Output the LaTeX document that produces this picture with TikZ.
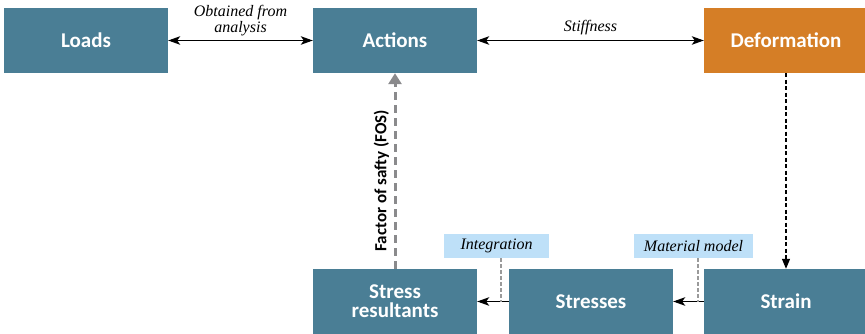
\documentclass[tikz,border=0pt]{standalone}
\usepackage{fontspec}
\setsansfont{Carlito}
\newfontfamily\labelfont{Liberation Serif}
\usetikzlibrary{arrows.meta}
\definecolor{boxteal}{HTML}{4A7E95}
\definecolor{boxorange}{HTML}{D57E26}
\definecolor{notefill}{HTML}{BEE0F8}
\definecolor{fosgray}{HTML}{8A8A8C}
\definecolor{notegray}{HTML}{9A9A9A}
\tikzset{
  blockbox/.style={fill=boxteal, draw=none, minimum width=164pt, minimum height=65pt,
    inner sep=0pt, text=white, align=center,
    font=\sffamily\bfseries\fontsize{21}{19}\selectfont},
  orangebox/.style={blockbox, fill=boxorange},
  notebox/.style={fill=notefill, draw=none, minimum height=24pt, inner sep=0pt,
    font=\labelfont\itshape\fontsize{16}{16}\selectfont},
  edgelabel/.style={font=\labelfont\itshape\fontsize{16}{14}\selectfont, align=center},
  solidarrow/.style={line width=1.1pt, -{Stealth[length=12pt,width=8.5pt,inset=3pt]}},
  twoway/.style={line width=1.1pt, {Stealth[length=12pt,width=8.5pt,inset=3pt]}-{Stealth[length=12pt,width=8.5pt,inset=3pt]}},
  fosarrow/.style={draw=fosgray, line width=3pt, dash pattern=on 8pt off 5pt,
    -{Triangle[length=11pt,width=13pt,fill=fosgray]}},
  dottedarrow/.style={line width=1.2pt, dash pattern=on 4pt off 2.5pt,
    -{Triangle[length=10pt,width=8pt]}},
  noteline/.style={draw=notegray, line width=1.3pt, dash pattern=on 4pt off 2pt}
}
\begin{document}
\begin{tikzpicture}[x=1pt, y=-1pt]
  \useasboundingbox (0,0) rectangle (865,334);
  \clip (0,0) rectangle (865,334);

  % main blocks
  \node[blockbox] (loads) at (86,40.5) {Loads};
  \node[blockbox] (actions) at (395,40.5) {Actions};
  \node[orangebox] (deform) at (786,40.5) {Deformation};
  \node[blockbox] (strain) at (786,301.5) {Strain};
  \node[blockbox] (stresses) at (591,301.5) {Stresses};
  \node[blockbox] (result) at (395,301.5) {Stress\\resultants};

  % top row relations
  \draw[twoway] (loads.east) -- node[edgelabel, above=1pt] {Obtained from\\analysis} (actions.west);
  \draw[twoway] (actions.east) -- node[edgelabel, above=2pt] {Stiffness} (deform.west);

  % deformation to strain
  \draw[dottedarrow] (deform.south) -- (strain.north);

  % bottom row
  \draw[solidarrow] (strain.west) -- (stresses.east);
  \draw[solidarrow] (stresses.west) -- (result.east);

  % safety factor back to actions
  \draw[fosarrow] (result.north) -- node[pos=0.45, sloped, above=1pt, text=black,
    font=\sffamily\bfseries\fontsize{17}{18}\selectfont] {Factor of safty (FOS)} (actions.south);

  % notes on the bottom arrows
  \node[notebox, minimum width=105pt] (integ) at (496.5,246) {Integration};
  \node[notebox, minimum width=119pt] (matmod) at (693.5,246) {Material model};
  \coordinate (ia) at (501,301.5);
  \coordinate (ma) at (698,301.5);
  \draw[noteline] (integ.south -| ia) -- (ia);
  \draw[noteline] (matmod.south -| ma) -- (ma);
\end{tikzpicture}
\end{document}
